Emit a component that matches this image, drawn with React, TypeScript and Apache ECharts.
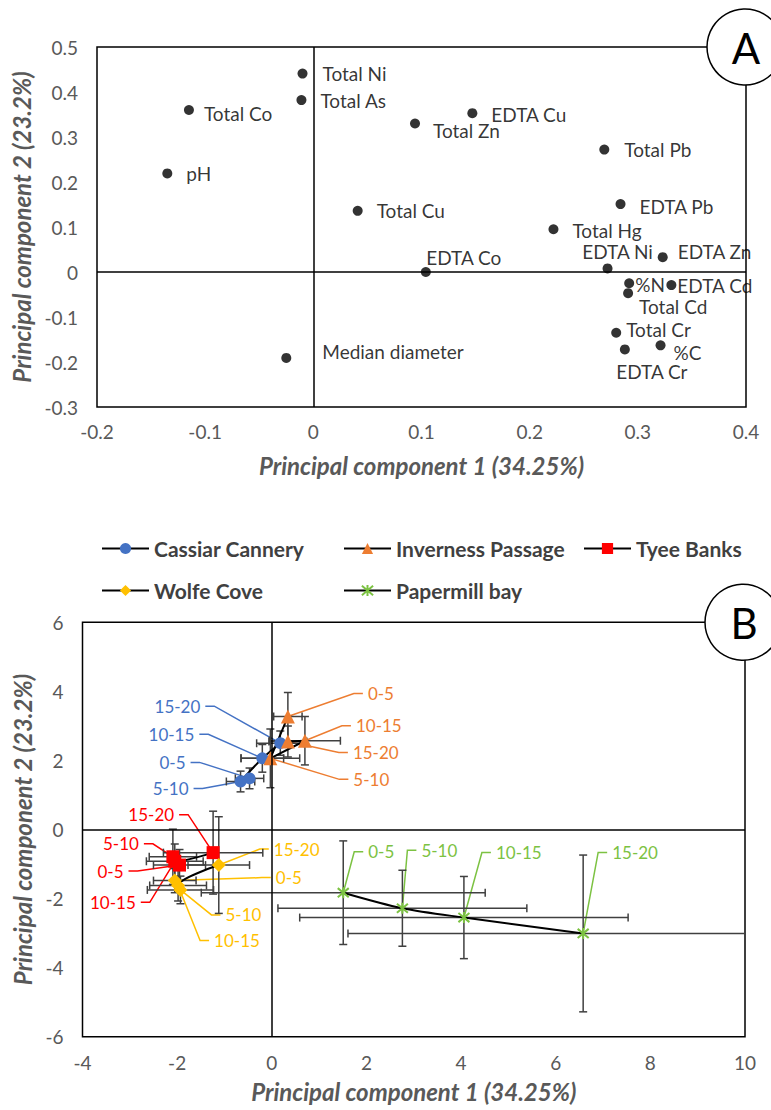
import React, { useEffect, useRef } from "react";
import * as echarts from "echarts";

// ---------- Panel A: loadings ----------
const loadingNames = [
  "Total Ni", "Total As", "Total Co", "pH", "Total Cu", "Median diameter",
  "EDTA Cu", "Total Zn", "Total Pb", "EDTA Pb", "Total Hg", "EDTA Zn",
  "EDTA Ni", "EDTA Co", "%N", "EDTA Cd", "Total Cd", "Total Cr", "%C", "EDTA Cr",
];
const loadingPC1 = [
  -0.010, -0.011, -0.115, -0.135, 0.041, -0.025,
  0.147, 0.094, 0.269, 0.284, 0.222, 0.323,
  0.272, 0.104, 0.292, 0.331, 0.291, 0.280, 0.321, 0.288,
];
const loadingPC2 = [
  0.441, 0.382, 0.360, 0.219, 0.136, -0.191,
  0.353, 0.330, 0.272, 0.151, 0.095, 0.033,
  0.008, 0.000, -0.025, -0.029, -0.047, -0.135, -0.163, -0.172,
];
// label placement (layout only): [align, dx, dy] in px from the point
const loadingLabelPlace: [string, number, number][] = [
  ["left", 20, 0], ["left", 19, 0], ["left", 15, 3], ["left", 19, 0], ["left", 19, 0], ["left", 36, -6],
  ["left", 19, 1], ["left", 18, 7], ["left", 20, 0], ["left", 19, 2], ["left", 19, 1], ["left", 15, -6],
  ["center", 10, -17], ["center", 38, -15], ["left", 6, 1], ["left", 6, 0], ["left", 11, 13], ["left", 10, -3], ["left", 13, 7], ["center", 27, 22],
];

// ---------- Panel B: scores ----------
const depthLabels = ["0-5", "5-10", "10-15", "15-20"];
const siteNames = ["Cassiar Cannery", "Inverness Passage", "Tyee Banks", "Wolfe Cove", "Papermill bay"];

const cassiarPC1 = [-0.47, -0.66, -0.20, 0.18];
const cassiarPC2 = [1.48, 1.39, 2.06, 2.50];
const cassiarPC1Err = [0.30, 0.30, 0.45, 0.50];
const cassiarPC2Err = [0.30, 0.30, 0.40, 0.35];

const invernessPC1 = [0.34, -0.03, 0.70, 0.34];
const invernessPC2 = [3.27, 2.06, 2.57, 2.55];
const invernessPC1Err = [0.30, 0.62, 0.75, 0.40];
const invernessPC2Err = [0.70, 0.85, 0.70, 0.45];

const tyeePC1 = [-1.95, -2.09, -2.05, -1.24];
const tyeePC2 = [-1.03, -0.79, -0.92, -0.67];
const tyeePC1Err = [0.55, 0.50, 0.60, 1.05];
const tyeePC2Err = [0.45, 0.80, 0.50, 1.20];

const wolfePC1 = [-2.05, -1.93, -1.98, -1.12];
const wolfePC2 = [-1.48, -1.75, -1.62, -1.03];
const wolfePC1Err = [0.45, 0.70, 0.60, 0.65];
const wolfePC2Err = [0.35, 0.40, 0.45, 1.40];

const papermillPC1 = [1.51, 2.76, 4.06, 6.58];
const papermillPC2 = [-1.83, -2.28, -2.55, -3.01];
const papermillPC1Err = [3.0, 2.63, 3.47, 4.97];
const papermillPC2Err = [1.5, 1.1, 1.19, 2.27];

// callout placement (layout only): [dx, dy] px from point to label anchor
const cassiarCallout = [[-64, -16], [-52, 7], [-68, -24], [-80, -37]];
const invernessCallout = [[80, -23], [83, 21], [51, -15], [65, 11]];
const tyeeCallout = [[-56, 6], [-34, -13], [-39, 41], [-39, -38]];
const wolfeCallout = [[101, -3], [45, 25], [36, 55], [55, -16]];
const papermillCallout = [[25, -41], [19, -58], [32, -65], [29, -81]];

const FONT = "Lato, 'Open Sans', sans-serif";
const GRAY = "#595959";
const ASTERISK = "path://M0,0L10,10M10,0L0,10M5,-1L5,11";

const sites = [
  { name: siteNames[0], pc1: cassiarPC1, pc2: cassiarPC2, e1: cassiarPC1Err, e2: cassiarPC2Err, color: "#4472C4", symbol: "circle", size: 12, side: "left", callout: cassiarCallout },
  { name: siteNames[1], pc1: invernessPC1, pc2: invernessPC2, e1: invernessPC1Err, e2: invernessPC2Err, color: "#ED7D31", symbol: "triangle", size: 14, side: "right", callout: invernessCallout },
  { name: siteNames[2], pc1: tyeePC1, pc2: tyeePC2, e1: tyeePC1Err, e2: tyeePC2Err, color: "#FF0000", symbol: "rect", size: 13, side: "left", callout: tyeeCallout },
  { name: siteNames[3], pc1: wolfePC1, pc2: wolfePC2, e1: wolfePC1Err, e2: wolfePC2Err, color: "#FFC000", symbol: "diamond", size: 14, side: "right", callout: wolfeCallout },
  { name: siteNames[4], pc1: papermillPC1, pc2: papermillPC2, e1: papermillPC1Err, e2: papermillPC2Err, color: "#7CC242", symbol: ASTERISK, size: 11, side: "right", callout: papermillCallout },
];

const legendLeft = [101, 343, 583, 101, 343];
const legendTop = [538, 538, 538, 580, 580];

function buildOption() {
  const axisLabel = { color: GRAY, fontSize: 19, fontFamily: FONT };
  const nameStyle = { color: GRAY, fontSize: 24, fontFamily: FONT, fontStyle: "italic", fontWeight: "bold" };
  const zeroLines = {
    silent: true, symbol: "none", label: { show: false },
    lineStyle: { color: "#000", width: 1.5, type: "solid" },
    emphasis: { disabled: true },
    data: [{ xAxis: 0 }, { yAxis: 0 }],
  };

  const series: any[] = [];

  // Panel A
  series.push({
    type: "scatter", xAxisIndex: 0, yAxisIndex: 0, symbol: "circle", symbolSize: 10,
    itemStyle: { color: "#000" }, z: 5,
    data: loadingNames.map((n, i) => ({
      name: n, value: [loadingPC1[i], loadingPC2[i]],
      label: {
        show: true, position: "inside", formatter: n,
        align: loadingLabelPlace[i][0], verticalAlign: "middle",
        offset: [loadingLabelPlace[i][1], loadingLabelPlace[i][2]],
        color: "#000", fontSize: 19, fontFamily: FONT,
      },
    })),
    markLine: zeroLines,
  });

  // Panel B
  sites.forEach((s, si) => {
    // callouts
    series.push({
      type: "custom", xAxisIndex: 1, yAxisIndex: 1, z: 2, silent: true, clip: false,
      data: s.pc1.map((x, i) => [x, s.pc2[i]]),
      renderItem: (params: any, api: any) => {
        const i = params.dataIndex;
        const p = api.coord([api.value(0), api.value(1)]);
        const [dx, dy] = s.callout[i];
        const tx = p[0] + dx, ty = p[1] + dy;
        const dir = s.side === "right" ? -1 : 1;
        const a = tx + dir * 5, b = tx + dir * 14;
        return {
          type: "group",
          children: [
            { type: "polyline", shape: { points: [[a, ty], [b, ty], [p[0], p[1]]] }, style: { stroke: s.color, lineWidth: 1.5, fill: null } },
            { type: "text", x: tx, y: ty, style: { text: depthLabels[i], fill: s.color, font: `17px ${FONT}`, align: s.side === "right" ? "left" : "right", verticalAlign: "middle" } },
          ],
        };
      },
    });
    // error bars
    series.push({
      type: "custom", xAxisIndex: 1, yAxisIndex: 1, z: 3, silent: true, clip: true,
      data: s.pc1.map((x, i) => [x, s.pc2[i], s.e1[i], s.e2[i]]),
      renderItem: (params: any, api: any) => {
        const x = api.value(0), y = api.value(1), ex = api.value(2), ey = api.value(3);
        const l = api.coord([x - ex, y]), r = api.coord([x + ex, y]);
        const t = api.coord([x, y + ey]), bt = api.coord([x, y - ey]);
        const c = 4;
        const st = { stroke: "#404040", lineWidth: 1.5 };
        const ln = (x1: number, y1: number, x2: number, y2: number) => ({ type: "line", shape: { x1, y1, x2, y2 }, style: st });
        return {
          type: "group",
          children: [
            ln(l[0], l[1], r[0], r[1]),
            ln(l[0], l[1] - c, l[0], l[1] + c),
            ln(r[0], r[1] - c, r[0], r[1] + c),
            ln(t[0], t[1], bt[0], bt[1]),
            ln(t[0] - c, t[1], t[0] + c, t[1]),
            ln(bt[0] - c, bt[1], bt[0] + c, bt[1]),
          ],
        };
      },
    });
    // connecting line + markers
    series.push({
      type: "line", name: s.name, xAxisIndex: 1, yAxisIndex: 1, z: 4,
      smooth: 0.3, symbol: s.symbol, symbolSize: s.size, showSymbol: true,
      lineStyle: { color: "#000", width: 2 },
      itemStyle: s.symbol === ASTERISK
        ? { color: s.color, borderColor: s.color, borderWidth: 2 }
        : { color: s.color, borderWidth: 0 },
      data: s.pc1.map((x, i) => [x, s.pc2[i]]),
      markLine: si === 0 ? zeroLines : undefined,
    });
  });

  return {
    animation: false,
    backgroundColor: "#fff",
    grid: [
      { left: 97, top: 47, width: 649, height: 360, show: true, borderColor: "#000", borderWidth: 1.5 },
      { left: 82.5, top: 622.3, width: 662.5, height: 414.4, show: true, borderColor: "#000", borderWidth: 1.5 },
    ],
    xAxis: [
      {
        type: "value", gridIndex: 0, min: -0.2, max: 0.4, interval: 0.1,
        axisLine: { show: false }, axisTick: { show: false }, splitLine: { show: false },
        axisLabel: { ...axisLabel, margin: 15 },
        name: "Principal component 1 (34.25%)", nameLocation: "middle", nameGap: 46, nameTextStyle: nameStyle,
      },
      {
        type: "value", gridIndex: 1, min: -4, max: 10, interval: 2,
        axisLine: { show: false }, axisTick: { show: false }, splitLine: { show: false },
        axisLabel: { ...axisLabel, margin: 16 },
        name: "Principal component 1 (34.25%)", nameLocation: "middle", nameGap: 43, nameTextStyle: nameStyle,
      },
    ],
    yAxis: [
      {
        type: "value", gridIndex: 0, min: -0.3, max: 0.5, interval: 0.1,
        axisLine: { show: false }, axisTick: { show: false }, splitLine: { show: false },
        axisLabel: { ...axisLabel, margin: 19 },
        name: "Principal component 2 (23.2%)", nameLocation: "middle", nameGap: 57, nameTextStyle: nameStyle,
      },
      {
        type: "value", gridIndex: 1, min: -6, max: 6, interval: 2,
        axisLine: { show: false }, axisTick: { show: false }, splitLine: { show: false },
        axisLabel: { ...axisLabel, margin: 19 },
        name: "Principal component 2 (23.2%)", nameLocation: "middle", nameGap: 42, nameTextStyle: nameStyle,
      },
    ],
    legend: siteNames.map((n, i) => ({
      data: [n], left: legendLeft[i], top: legendTop[i], itemWidth: 47, itemHeight: 14,
      selectedMode: false, padding: 0,
      textStyle: { color: "#404040", fontSize: 21, fontWeight: "bold", fontFamily: FONT },
    })),
    graphic: [
      { type: "circle", z: 100, shape: { cx: 745, cy: 47, r: 38 }, style: { fill: "#fff", stroke: "#000", lineWidth: 1.5 } },
      { type: "text", z: 101, x: 746, y: 48, style: { text: "A", font: `42px ${FONT}`, fill: "#000", align: "center", verticalAlign: "middle" } },
      { type: "circle", z: 100, shape: { cx: 743, cy: 622.3, r: 38 }, style: { fill: "#fff", stroke: "#000", lineWidth: 1.5 } },
      { type: "text", z: 101, x: 744, y: 623, style: { text: "B", font: `42px ${FONT}`, fill: "#000", align: "center", verticalAlign: "middle" } },
    ],
    series,
  };
}

export default function App() {
  const ref = useRef<HTMLDivElement>(null);
  useEffect(() => {
    if (!ref.current) return;
    const chart = echarts.init(ref.current, undefined, { renderer: "svg" });
    chart.setOption(buildOption() as any);
    return () => chart.dispose();
  }, []);
  return <div ref={ref} style={{ position: "absolute", left: 0, top: 0, width: 771, height: 1110 }} />;
}
